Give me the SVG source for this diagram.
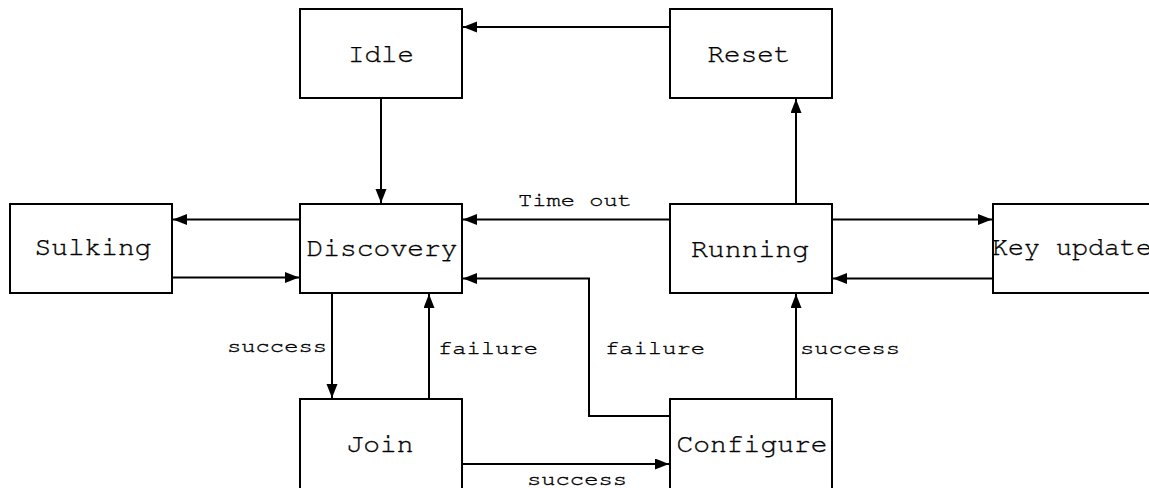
<svg xmlns="http://www.w3.org/2000/svg" width="1149" height="488" viewBox="0 0 1149 488">
  <defs>
    <marker id="arrow" markerUnits="userSpaceOnUse" markerWidth="15" markerHeight="12" refX="14" refY="5.5" orient="auto">
      <path d="M0,0 L14,5.5 L0,11 z" fill="#000"/>
    </marker>
    <style>
      rect.state { fill: #fff; stroke: #000; stroke-width: 2; }
      text.name, text.label { font-family: "Nimbus Mono PS", "FreeMono", "Courier New", "Liberation Mono", monospace; fill: #000; stroke: #000; stroke-width: 0.35; text-anchor: middle; }
      text.name { font-size: 26px; }
      text.label { font-size: 20px; }
      #connectors path { fill: none; stroke: #000; stroke-width: 2; marker-end: url(#arrow); }
    </style>
  </defs>
  <rect width="1149" height="488" fill="#fff"/>

  <!-- transitions between states -->
  <g id="connectors">
    <path d="M670,27 H463"/>
    <path d="M381,98 V203"/>
    <path d="M300,219.5 H173"/>
    <path d="M172,277.5 H299"/>
    <path d="M670,219.5 H463"/>
    <path d="M670,416 H589 V278.5 H463"/>
    <path d="M332,293 V398"/>
    <path d="M429,399 V294"/>
    <path d="M462,464 H669"/>
    <path d="M796,399 V294"/>
    <path d="M796,204 V99"/>
    <path d="M832,219.5 H992"/>
    <path d="M993,278.5 H833"/>
    <text class="label" x="575" y="206" textLength="114" lengthAdjust="spacingAndGlyphs">Time out</text>
    <text class="label" x="277" y="352" textLength="100" lengthAdjust="spacingAndGlyphs">success</text>
    <text class="label" x="488" y="354" textLength="100" lengthAdjust="spacingAndGlyphs">failure</text>
    <text class="label" x="655" y="354" textLength="100" lengthAdjust="spacingAndGlyphs">failure</text>
    <text class="label" x="850" y="354" textLength="100" lengthAdjust="spacingAndGlyphs">success</text>
    <text class="label" x="577" y="485" textLength="100" lengthAdjust="spacingAndGlyphs">success</text>
  </g>

  <g id="idle">
    <rect class="state" x="300" y="9" width="162" height="89"/>
    <text class="name" x="381" y="62" textLength="66" lengthAdjust="spacingAndGlyphs">Idle</text>
  </g>
  <g id="reset">
    <rect class="state" x="670" y="9" width="162" height="89"/>
    <text class="name" x="749" y="62" textLength="83" lengthAdjust="spacingAndGlyphs">Reset</text>
  </g>
  <g id="sulking">
    <rect class="state" x="10" y="204" width="162" height="89"/>
    <text class="name" x="93" y="255" textLength="117" lengthAdjust="spacingAndGlyphs">Sulking</text>
  </g>
  <g id="discovery">
    <rect class="state" x="300" y="204" width="162" height="89"/>
    <text class="name" x="382" y="256" textLength="151" lengthAdjust="spacingAndGlyphs">Discovery</text>
  </g>
  <g id="running">
    <rect class="state" x="670" y="204" width="162" height="89"/>
    <text class="name" x="750" y="257" textLength="118" lengthAdjust="spacingAndGlyphs">Running</text>
  </g>
  <g id="key-update">
    <rect class="state" x="993" y="204" width="162" height="89"/>
    <text class="name" x="1072" y="255" textLength="160" lengthAdjust="spacingAndGlyphs">Key update</text>
  </g>
  <g id="join">
    <rect class="state" x="300" y="399" width="162" height="100"/>
    <text class="name" x="380" y="452" textLength="67" lengthAdjust="spacingAndGlyphs">Join</text>
  </g>
  <g id="configure">
    <rect class="state" x="670" y="399" width="162" height="100"/>
    <text class="name" x="752" y="452" textLength="151" lengthAdjust="spacingAndGlyphs">Configure</text>
  </g>
</svg>
